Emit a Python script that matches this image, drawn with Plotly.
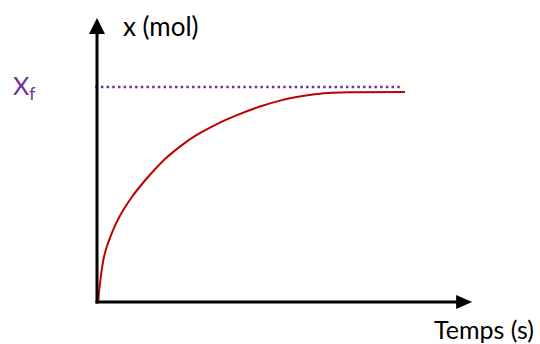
import plotly.graph_objects as go

# Curve data (time in arbitrary units, x in units of Xf)
temps = [0.42, 0.65, 0.97, 1.72, 2.37, 3.15, 4.12, 5.29, 6.82, 8.54, 11.27, 13.96, 17.21, 22.08,
         28.02, 32.14, 36.69, 40.91, 45.45, 52.92, 59.42, 65.26, 71.33, 76.62, 82.14, 100]
x_mol = [0, 0.048, 0.089, 0.171, 0.221, 0.262, 0.302, 0.345, 0.393, 0.438, 0.499, 0.550, 0.606, 0.681,
         0.752, 0.793, 0.830, 0.861, 0.890, 0.931, 0.959, 0.977, 0.990, 0.996, 0.999, 1.0]
xf_value = 1.024
xf_span = [-0.6, 98.4]
axis_tip_t = 121.8
axis_tip_x = 1.352

purple = "#7030A0"
red = "#C00000"
FONT = "Lato"

# pixel scale (data units per pixel)
tx = 1 / 3.08
yx = 1 / 210.0
W, H = 540, 344

fig = go.Figure()
fig.add_trace(go.Scatter(x=xf_span, y=[xf_value, xf_value], mode="lines",
                         line=dict(color=purple, width=2.5, dash="2.5px,3.2px"),
                         hoverinfo="skip", showlegend=False))
fig.add_trace(go.Scatter(x=temps, y=x_mol, mode="lines",
                         line=dict(color=red, width=2, shape="spline", smoothing=0.6),
                         hoverinfo="skip", showlegend=False))

shapes = [
    dict(type="line", xref="x", yref="y", x0=0, y0=-1.5 * yx, x1=0, y1=axis_tip_x - 14 * yx,
         line=dict(color="black", width=3)),
    dict(type="line", xref="x", yref="y", x0=-1.5 * tx, y0=0, x1=axis_tip_t - 14 * tx, y1=0,
         line=dict(color="black", width=3)),
    dict(type="path", xref="x", yref="y", fillcolor="black", line=dict(width=0),
         path=f"M {0} {axis_tip_x} L {-8*tx} {axis_tip_x-16*yx} L {8*tx} {axis_tip_x-16*yx} Z"),
    dict(type="path", xref="x", yref="y", fillcolor="black", line=dict(width=0),
         path=f"M {axis_tip_t} {0} L {axis_tip_t-16*tx} {7*yx} L {axis_tip_t-16*tx} {-7*yx} Z"),
]

annotations = [
    dict(x=(121 - 97) * tx, y=(302 - 26) * yx, xref="x", yref="y", text="x (mol)", showarrow=False,
         xanchor="left", yanchor="middle", font=dict(family=FONT, size=26, color="black")),
    dict(x=(536 - 97) * tx, y=-(329 - 302) * yx, xref="x", yref="y", text="Temps (s)", showarrow=False,
         xanchor="right", yanchor="middle", font=dict(family=FONT, size=25, color="black")),
    dict(x=(11 - 97) * tx, y=(302 - 87) * yx, xref="x", yref="y", text="X<sub>f</sub>", showarrow=False,
         xanchor="left", yanchor="middle", font=dict(family=FONT, size=25, color=purple)),
]

fig.update_layout(
    width=W, height=H,
    margin=dict(l=0, r=0, t=0, b=0),
    paper_bgcolor="white", plot_bgcolor="white",
    xaxis=dict(range=[-97 * tx, (540 - 97) * tx], visible=False, fixedrange=True),
    yaxis=dict(range=[-(344 - 302) * yx, 302 * yx], visible=False, fixedrange=True),
    shapes=shapes, annotations=annotations, showlegend=False,
)

fig.write_html("out.html", config={"displayModeBar": False},
               post_script="document.body.style.margin='0';document.body.style.overflow='hidden';")
